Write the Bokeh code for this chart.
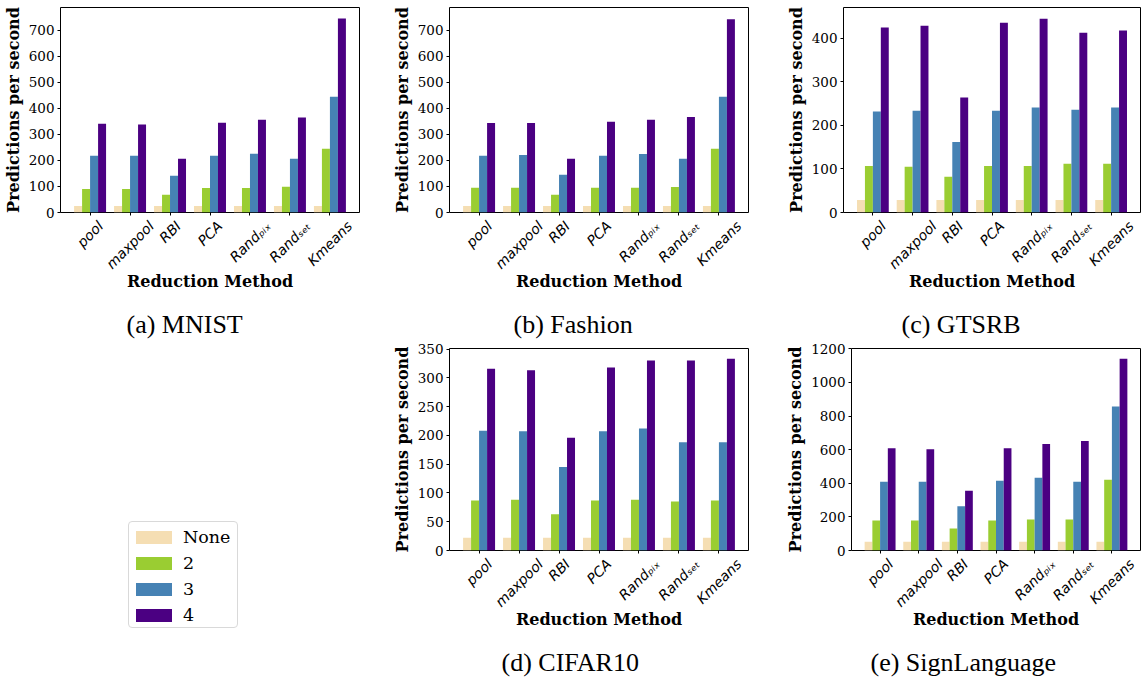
import math
from bokeh.plotting import figure
from bokeh.models import (Range1d, FixedTicker, ColumnDataSource, LinearAxis, Title, Div)
from bokeh.layouts import row, column
from bokeh.transform import dodge
from bokeh.embed import file_html
from bokeh.resources import INLINE

# ---------------- data ----------------
methods = ["pool", "maxpool", "RBI", "PCA", "Rand\u209a\u1d62\u2093", "Rand\u209b\u2091\u209c", "Kmeans"]
series_names = ["None", "2", "3", "4"]
colors = ["#f5deb3", "#9acd32", "#4682b4", "#4b0082"]

mnist_none = [25, 25, 25, 25, 25, 25, 25]
mnist_2 = [90, 90, 68, 94, 94, 99, 245]
mnist_3 = [218, 218, 141, 218, 226, 207, 445]
mnist_4 = [341, 338, 207, 345, 357, 365, 746]

fashion_none = [25, 25, 25, 25, 25, 25, 25]
fashion_2 = [95, 95, 68, 95, 95, 98, 245]
fashion_3 = [218, 221, 145, 218, 225, 206, 444]
fashion_4 = [344, 344, 206, 348, 356, 367, 742]

gtsrb_none = [29, 29, 29, 29, 29, 29, 29]
gtsrb_2 = [107, 105, 82, 107, 107, 112, 112]
gtsrb_3 = [232, 234, 162, 234, 241, 236, 241]
gtsrb_4 = [425, 429, 264, 436, 445, 413, 418]

cifar_none = [22, 22, 22, 22, 22, 22, 22]
cifar_2 = [87, 88, 63, 87, 88, 85, 87]
cifar_3 = [208, 207, 145, 207, 212, 188, 188]
cifar_4 = [316, 313, 196, 318, 330, 330, 333]

sign_none = [52, 52, 52, 52, 52, 52, 52]
sign_2 = [179, 179, 131, 179, 185, 185, 421]
sign_3 = [409, 409, 264, 415, 433, 409, 857]
sign_4 = [609, 603, 355, 609, 633, 651, 1141]

y_label = "Predictions per second"
x_label = "Reduction Method"

# ---------------- styling helpers ----------------
XMIN, XMAX = -0.74, 6.74
CHAR_EM = {'p': .635, 'o': .612, 'l': .278, 'm': .974, 'a': .613, 'x': .592, 'R': .695,
           'B': .686, 'I': .295, 'P': .603, 'C': .698, 'A': .684, 'n': .634, 'd': .635,
           'K': .656, 'e': .615, 's': .521, 'i': .278, 't': .392}
XT_SIZE = 14.0


def text_w(s, size):
    return sum(CHAR_EM.get(ch, 0.36) for ch in s) * size


def make_panel(vals, ymax, ystep, caption, W, H, L, R, T, FH, cap_left):
    FW = W - L - R
    p = figure(width=W, height=H, min_border_left=L, min_border_right=R,
               min_border_top=T, min_border_bottom=H - T - FH,
               x_range=Range1d(XMIN, XMAX), y_range=Range1d(0, ymax),
               output_backend="svg", toolbar_location=None)
    p.background_fill_color = "white"
    p.border_fill_color = "white"
    p.outline_line_color = "black"
    p.outline_line_width = 1
    p.outline_line_alpha = 1
    p.grid.visible = False

    src = ColumnDataSource(dict(x=list(range(len(methods))), s0=vals[0], s1=vals[1],
                                s2=vals[2], s3=vals[3]))
    offs = [-0.3, -0.1, 0.1, 0.3]
    for k in range(4):
        p.vbar(x=dodge("x", offs[k], range=p.x_range), top="s%d" % k, width=0.2,
               bottom=0, source=src, fill_color=colors[k], line_color=None)

    # axes: x axis 1 -> tick marks only
    for ax in (p.xaxis[0], p.yaxis[0]):
        ax.axis_line_color = None
        ax.major_tick_line_color = "black"
        ax.major_tick_in = 0
        ax.major_tick_out = 3
        ax.minor_tick_line_color = None
    p.xaxis[0].ticker = FixedTicker(ticks=list(range(len(methods))))
    p.xaxis[0].major_label_overrides = {i: "" for i in range(len(methods))}
    p.xaxis[0].major_label_standoff = 0

    # x axis 2 -> rotated labels centred on the group centres
    ppu = FW / (XMAX - XMIN)
    pos = [i + 0.354 * text_w(m, XT_SIZE) / ppu for i, m in enumerate(methods)]
    ax2 = LinearAxis(ticker=FixedTicker(ticks=pos),
                     major_label_overrides={pos[i]: methods[i] for i in range(len(methods))})
    ax2.axis_line_color = None
    ax2.major_tick_line_color = None
    ax2.minor_tick_line_color = None
    ax2.major_tick_in = 0
    ax2.major_tick_out = 0
    ax2.major_label_orientation = math.pi / 4
    ax2.major_label_standoff = 8
    ax2.major_label_text_font = "DejaVu Sans"
    ax2.major_label_text_font_style = "italic"
    ax2.major_label_text_font_size = "%.1fpx" % XT_SIZE
    ax2.major_label_text_color = "black"
    ax2.axis_label = x_label
    ax2.axis_label_text_font = "DejaVu Serif"
    ax2.axis_label_text_font_style = "bold"
    ax2.axis_label_text_font_size = "16px"
    ax2.axis_label_text_color = "black"
    ax2.axis_label_standoff = -9
    p.add_layout(ax2, "below")

    # invisible spacer between the axis title and the caption
    sp = LinearAxis(ticker=FixedTicker(ticks=[3.0]), axis_line_color=None,
                    major_tick_line_color=None, minor_tick_line_color=None,
                    major_tick_in=0, major_tick_out=13, major_label_standoff=0,
                    major_label_overrides={3.0: ""})
    p.add_layout(sp, "below")

    p.yaxis.ticker = FixedTicker(ticks=list(range(0, int(ymax) + 1, ystep)))
    p.yaxis.major_label_text_font = "DejaVu Serif"
    p.yaxis.major_label_text_font_size = "13.5px"
    p.yaxis.major_label_text_color = "black"
    p.yaxis.major_label_standoff = 3
    p.yaxis.axis_label = y_label
    p.yaxis.axis_label_text_font = "DejaVu Serif"
    p.yaxis.axis_label_text_font_style = "bold"
    p.yaxis.axis_label_text_font_size = "16px"
    p.yaxis.axis_label_text_color = "black"
    p.yaxis.axis_label_standoff = 3

    # caption
    p.add_layout(Title(text=caption, align="left", offset=cap_left, standoff=2,
                       text_font="Liberation Serif", text_font_size="26px",
                       text_font_style="normal", text_color="black"), "below")
    return p


pa = make_panel([mnist_none, mnist_2, mnist_3, mnist_4], 788, 100, "(a) MNIST",
                380, 340, 59, 21, 7, 205, 66)
pb = make_panel([fashion_none, fashion_2, fashion_3, fashion_4], 787, 100, "(b) Fashion",
                390, 340, 69, 22, 7, 205, 64)
pc = make_panel([gtsrb_none, gtsrb_2, gtsrb_3, gtsrb_4], 471, 100, "(c) GTSRB",
                373, 340, 73, 3, 7, 205, 58)
pd = make_panel([cifar_none, cifar_2, cifar_3, cifar_4], 351, 50, "(d) CIFAR10",
                390, 337, 69, 22, 8, 202, 52)
pe = make_panel([sign_none, sign_2, sign_3, sign_4], 1202, 200, "(e) SignLanguage",
                373, 337, 81, 3, 8, 202, 19)

# legend (HTML, shared by all panels)
entries = ""
for k in range(len(series_names)):
    entries += ('<div style="position:absolute;left:7px;top:%dpx;width:36px;height:13px;'
                'background:%s;"></div>' % (9 + 26 * k, colors[k]))
    entries += ('<div style="position:absolute;left:54px;top:%dpx;height:20px;line-height:20px;'
                'font-family:\'DejaVu Serif\';font-size:17.5px;color:black;white-space:nowrap;">%s</div>'
                % (5 + 26 * k, series_names[k]))
legend_html = ('<div style="position:relative;width:380px;height:337px;">'
               '<div style="position:absolute;left:128px;top:181px;width:110px;height:107px;'
               'border:1px solid #d9d9d9;border-radius:4px;background:white;">'
               + entries + '</div></div>')
pl = Div(text=legend_html, width=380, height=337, margin=0)

layout = column(row(pa, pb, pc, spacing=0), row(pl, pd, pe, spacing=0), spacing=0)
open("out.html", "w").write(file_html(layout, INLINE))
